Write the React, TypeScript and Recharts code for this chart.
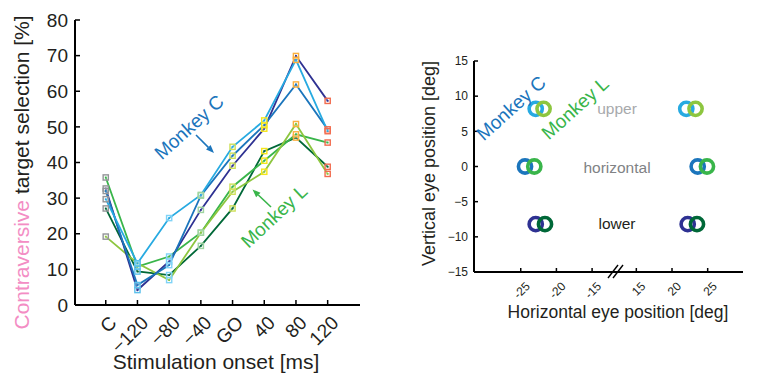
import React from 'react';
import { LineChart, Line, XAxis, YAxis, ScatterChart, Scatter } from 'recharts';

// ---------- Left panel data ----------
const categories = ['C', '\u2212120', '\u221280', '\u221240', 'GO', '40', '80', '120'];
const markerColors = ['#939598', '#5bc0eb', '#7fd3f7', '#9fd5a0', '#cfe05a', '#f5e61a', '#fbb040', '#f26c4f'];
const leftYTicks = [0, 10, 20, 30, 40, 50, 60, 70, 80];

const cNavy = [32.7, 4.2, 12.2, 26.7, 39.1, 49.5, 69.9, 57.3];
const cBlue = [32.0, 5.6, 11.2, 30.7, 41.9, 50.5, 61.9, 49.3];
const cLight = [29.7, 11.7, 24.4, 30.9, 44.4, 51.8, 68.8, 48.8];
const lDark = [27.1, 9.4, 8.4, 16.6, 27.1, 43.2, 47.0, 38.8];
const lGreen = [35.8, 10.8, 13.6, 20.3, 33.2, 40.5, 47.9, 45.6];
const lLight = [19.2, 11.7, 7.0, 20.3, 31.8, 37.4, 50.8, 36.8];

// ---------- Right panel data ----------
const rightYTicks = [-15, -10, -5, 0, 5, 10, 15];
const rightXTickValues = [-25, -20, -15, 15, 20, 25];
const rightXTickLabels = ['-25', '-20', '-15', '15', '20', '25'];

const upperCx = [-22.9, 22.0];
const upperLx = [-21.8, 23.3];
const horizCx = [-24.4, 23.6];
const horizLx = [-23.1, 24.9];
const lowerCx = [-22.9, 22.2];
const lowerLx = [-21.6, 23.5];
const upperY = 8.2;
const horizY = 0;
const lowerY = -8.2;

const COL = {
  navy: '#2e3192',
  blue: '#1b75bc',
  light: '#27aae1',
  dgreen: '#006838',
  green: '#39b54a',
  lgreen: '#8dc63f',
};

const FONT = '"Liberation Sans", Arial, Helvetica, sans-serif';

const leftData = categories.map((c, i) => ({
  idx: i,
  cat: c,
  cNavy: cNavy[i],
  cBlue: cBlue[i],
  cLight: cLight[i],
  lDark: lDark[i],
  lGreen: lGreen[i],
  lLight: lLight[i],
}));

// broken axis: compress the gap between -15 and +15
const GAP = 23.8;
const brk = (x: number) => (x < 0 ? x : x - GAP);
const pts = (xs: number[], y: number) => xs.map((x) => ({ x: brk(x), y }));

const makeDot = (color: string) => (props: any) => {
  const { cx, cy, index } = props;
  const k = `d-${color}-${index}`;
  if (cx == null || cy == null) return <g key={k} />;
  return (
    <g key={k}>
      <rect x={cx - 2.6} y={cy - 2.6} width={5.2} height={5.2} fill="#fff" fillOpacity={0.3} stroke={markerColors[index]} strokeWidth={1.4} />
      <rect x={cx - 0.9} y={cy - 0.9} width={1.8} height={1.8} fill={color} />
    </g>
  );
};

const LeftXTick = (props: any) => {
  const { x, y, payload } = props;
  const label = categories[Math.round(payload.value)] ?? '';
  return (
    <text x={x + 12} y={y + 19} textAnchor="end" fontSize={19} fontFamily={FONT} fill="#231f20"
      transform={`rotate(-45 ${x + 12} ${y + 19})`}>
      {label}
    </text>
  );
};

const RightXTick = (props: any) => {
  const { x, y, payload } = props;
  let best = 0;
  rightXTickValues.forEach((v, i) => {
    if (Math.abs(brk(v) - payload.value) < Math.abs(brk(rightXTickValues[best]) - payload.value)) best = i;
  });
  return (
    <text x={x + 10} y={y + 15} textAnchor="end" fontSize={12} fontFamily={FONT} fill="#231f20"
      transform={`rotate(-45 ${x + 10} ${y + 15})`}>
      {rightXTickLabels[best]}
    </text>
  );
};

const ring = (color: string) => (props: any) => (
  <circle cx={props.cx} cy={props.cy} r={6.6} fill="none" stroke={color} strokeWidth={3.6} />
);

const Arrow = ({ x1, y1, x2, y2, color }: any) => {
  const a = Math.atan2(y2 - y1, x2 - x1);
  const L = 8, W = 3.2;
  const bx = x2 - L * Math.cos(a), by = y2 - L * Math.sin(a);
  const p1 = `${x2},${y2}`;
  const p2 = `${bx - W * Math.sin(a)},${by + W * Math.cos(a)}`;
  const p3 = `${bx + W * Math.sin(a)},${by - W * Math.cos(a)}`;
  return (
    <g>
      <line x1={x1} y1={y1} x2={bx} y2={by} stroke={color} strokeWidth={1.6} />
      <polygon points={`${p1} ${p2} ${p3}`} fill={color} />
    </g>
  );
};

export default function App() {
  return (
    <div style={{ position: 'absolute', left: 0, top: 0, width: 761, height: 375, background: '#fff', overflow: 'hidden' }}>
      <div style={{ position: 'absolute', left: 0, top: 0 }}>
        <LineChart width={370} height={375} data={leftData} margin={{ top: 20, right: 10, bottom: 0, left: 0 }}>
          <XAxis dataKey="idx" type="number" domain={[-0.97, 8.02]} ticks={[0, 1, 2, 3, 4, 5, 6, 7]}
            height={70} tickSize={-5} tickMargin={5} stroke="#000" strokeWidth={2}
            axisLine={{ stroke: '#000', strokeWidth: 2 }} tickLine={{ stroke: '#000', strokeWidth: 1.5 }}
            tick={<LeftXTick />} interval={0} allowDataOverflow />
          <XAxis xAxisId="top" orientation="top" dataKey="idx" type="number" domain={[-0.97, 8.02]}
            ticks={[0, 1, 2, 3, 4, 5, 6, 7]} height={0} tickSize={-5} tick={false}
            axisLine={{ stroke: '#000', strokeWidth: 2 }} tickLine={{ stroke: '#000', strokeWidth: 1.5 }} allowDataOverflow />
          <YAxis type="number" domain={[0, 80]} ticks={leftYTicks} width={75} tickSize={-5} tickMargin={12}
            axisLine={{ stroke: '#000', strokeWidth: 2 }} tickLine={{ stroke: '#000', strokeWidth: 1.5 }}
            tick={{ fontSize: 19, fontFamily: FONT, fill: '#231f20' }} interval={0} allowDataOverflow />
          <YAxis yAxisId="right" orientation="right" type="number" domain={[0, 80]} ticks={leftYTicks} width={0}
            tickSize={-5} tick={false} axisLine={{ stroke: '#000', strokeWidth: 2 }}
            tickLine={{ stroke: '#000', strokeWidth: 1.5 }} allowDataOverflow />
          <Line dataKey="lDark" stroke={COL.dgreen} strokeWidth={1.8} dot={makeDot(COL.dgreen)} isAnimationActive={false} />
          <Line dataKey="lGreen" stroke={COL.green} strokeWidth={1.8} dot={makeDot(COL.green)} isAnimationActive={false} />
          <Line dataKey="lLight" stroke={COL.lgreen} strokeWidth={1.8} dot={makeDot(COL.lgreen)} isAnimationActive={false} />
          <Line dataKey="cNavy" stroke={COL.navy} strokeWidth={1.8} dot={makeDot(COL.navy)} isAnimationActive={false} />
          <Line dataKey="cBlue" stroke={COL.blue} strokeWidth={1.8} dot={makeDot(COL.blue)} isAnimationActive={false} />
          <Line dataKey="cLight" stroke={COL.light} strokeWidth={1.8} dot={makeDot(COL.light)} isAnimationActive={false} />
        </LineChart>
      </div>

      <div style={{ position: 'absolute', left: 400, top: 0 }}>
        <ScatterChart width={361} height={375} margin={{ top: 61, right: 18, bottom: 0, left: 0 }}>
          <XAxis dataKey="x" type="number" domain={[-31.55, 6.15]} ticks={rightXTickValues.map(brk)}
            height={103} tickSize={-4} tickMargin={4} interval={0}
            axisLine={{ stroke: '#000', strokeWidth: 2 }} tickLine={{ stroke: '#000', strokeWidth: 1.5 }}
            tick={<RightXTick />} allowDataOverflow />
          <YAxis dataKey="y" type="number" domain={[-15, 15]} ticks={rightYTicks} width={74} tickSize={-4}
            tickMargin={10} interval={0}
            axisLine={{ stroke: '#000', strokeWidth: 2 }} tickLine={{ stroke: '#000', strokeWidth: 1.5 }}
            tick={{ fontSize: 12, fontFamily: FONT, fill: '#231f20' }}
            tickFormatter={(v: number) => (v < 0 ? `\u2212${-v}` : `${v}`)} allowDataOverflow />
          <Scatter data={pts(upperCx, upperY)} shape={ring(COL.light)} isAnimationActive={false} />
          <Scatter data={pts(upperLx, upperY)} shape={ring(COL.lgreen)} isAnimationActive={false} />
          <Scatter data={pts(horizCx, horizY)} shape={ring(COL.blue)} isAnimationActive={false} />
          <Scatter data={pts(horizLx, horizY)} shape={ring(COL.green)} isAnimationActive={false} />
          <Scatter data={pts(lowerCx, lowerY)} shape={ring(COL.navy)} isAnimationActive={false} />
          <Scatter data={pts(lowerLx, lowerY)} shape={ring(COL.dgreen)} isAnimationActive={false} />
        </ScatterChart>
      </div>

      <svg width={761} height={375} style={{ position: 'absolute', left: 0, top: 0, pointerEvents: 'none' }}
        fontFamily={FONT}>
        {/* left panel titles */}
        <text x={29} y={172.5} transform="rotate(-90 29 172.5)" textAnchor="middle" fontSize={21}>
          <tspan fill="#f38dc4">Contraversive</tspan>
          <tspan fill="#231f20"> target selection [%]</tspan>
        </text>
        <text x={216} y={369} textAnchor="middle" fontSize={21} fill="#231f20">Stimulation onset [ms]</text>
        {/* left annotations */}
        <text x={189} y={127} dy="0.35em" textAnchor="middle" fontSize={19} fill={COL.blue}
          transform="rotate(-42 189 127)">Monkey C</text>
        <Arrow x1={196} y1={135} x2={214} y2={153} color={COL.blue} />
        <text x={274} y={216} dy="0.35em" textAnchor="middle" fontSize={19} fill={COL.green}
          transform="rotate(-43 274 216)">Monkey L</text>
        <Arrow x1={271} y1={207} x2={252.5} y2={189.5} color={COL.green} />

        {/* right panel titles */}
        <text x={435} y={163.5} transform="rotate(-90 435 163.5)" textAnchor="middle" fontSize={18} fill="#231f20">
          Vertical eye position [deg]
        </text>
        <text x={618} y={318} textAnchor="middle" fontSize={17.5} fill="#231f20">Horizontal eye position [deg]</text>
        {/* right annotations */}
        <text x={511} y={108} dy="0.35em" textAnchor="middle" fontSize={19} fill={COL.blue}
          transform="rotate(-42 511 108)">Monkey C</text>
        <text x={575} y={108} dy="0.35em" textAnchor="middle" fontSize={19} fill={COL.green}
          transform="rotate(-42 575 108)">Monkey L</text>
        <text x={617} y={109} dy="0.35em" textAnchor="middle" fontSize={15.5} fill="#a7a9ac">upper</text>
        <text x={617} y={168} dy="0.35em" textAnchor="middle" fontSize={15.5} fill="#808285">horizontal</text>
        <text x={617} y={224} dy="0.35em" textAnchor="middle" fontSize={15.5} fill="#231f20">lower</text>
        {/* axis break marks */}
        <line x1={608} y1={278} x2={618} y2={265} stroke="#000" strokeWidth={1.4} />
        <line x1={613} y1={278} x2={623} y2={265} stroke="#000" strokeWidth={1.4} />
      </svg>
    </div>
  );
}
